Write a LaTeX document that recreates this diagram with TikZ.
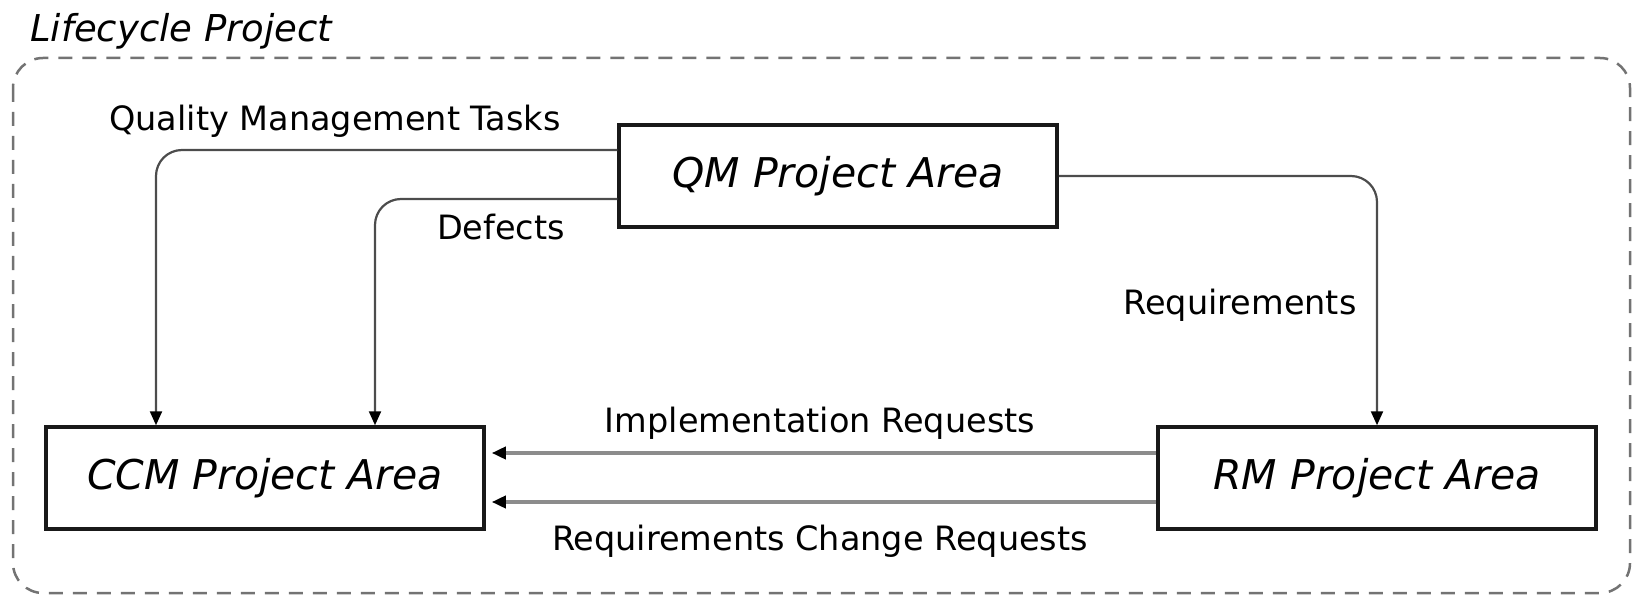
\documentclass[tikz,border=0pt]{standalone}
\usepackage{fontspec}
\setmainfont{DejaVu Sans}
\usetikzlibrary{arrows.meta}

\begin{document}
\begin{tikzpicture}[x=1pt,y=-1pt,
  area/.style={draw=black!90,line width=3.5pt,minimum width=438pt,minimum height=102pt,inner sep=0pt,font=\fontsize{41}{49}\selectfont\itshape},
  lbl/.style={font=\fontsize{33.5}{40}\selectfont,inner sep=0pt},
  conn/.style={draw=black!70,line width=2.2pt,rounded corners=26pt,-{Triangle[length=14pt,width=12pt,color=black]}},
  hconn/.style={draw=black!45,line width=3.5pt,shorten >=6pt,-{Triangle[length=14pt,width=12pt,color=black]}}]
\useasboundingbox (0,0) rectangle (1636,596);
\newcommand\area[4]{
\node[area] (#1) at (#2,#3) {#4};
}
% lifecycle frame
\draw[black!55,line width=2.5pt,dash pattern=on 14pt off 10pt,rounded corners=30pt] (13,58) rectangle (1630,593);
\node[anchor=base west,inner sep=0pt,font=\fontsize{37}{44}\selectfont\itshape] (lp) at (30,42) {Lifecycle Project};
% project areas
\area{qm}{838}{176}{QM Project Area}
\area{ccm}{265}{478}{CCM Project Area}
\area{rm}{1377}{478}{RM Project Area}
% links
\draw[conn] ([yshift=26pt]qm.west) -| ([xshift=-109pt]ccm.north);
\draw[conn] ([yshift=-23pt]qm.west) -| ([xshift=110pt]ccm.north);
\draw[conn] (qm.east) -| (rm.north);
\draw[hconn] ([yshift=25pt]rm.west) -- ([yshift=25pt]ccm.east);
\draw[hconn] ([yshift=-24pt]rm.west) -- ([yshift=-24pt]ccm.east);
% labels
\node[lbl] (qmt) at (335,121) {Quality Management Tasks};
\node[lbl] (def) at (501,227) {Defects};
\node[lbl] (req) at (1240,305) {Requirements};
\node[lbl] (impl) at (820,423) {Implementation Requests};
\node[lbl] (rcr) at (820,541) {Requirements Change Requests};
\end{tikzpicture}
\end{document}
